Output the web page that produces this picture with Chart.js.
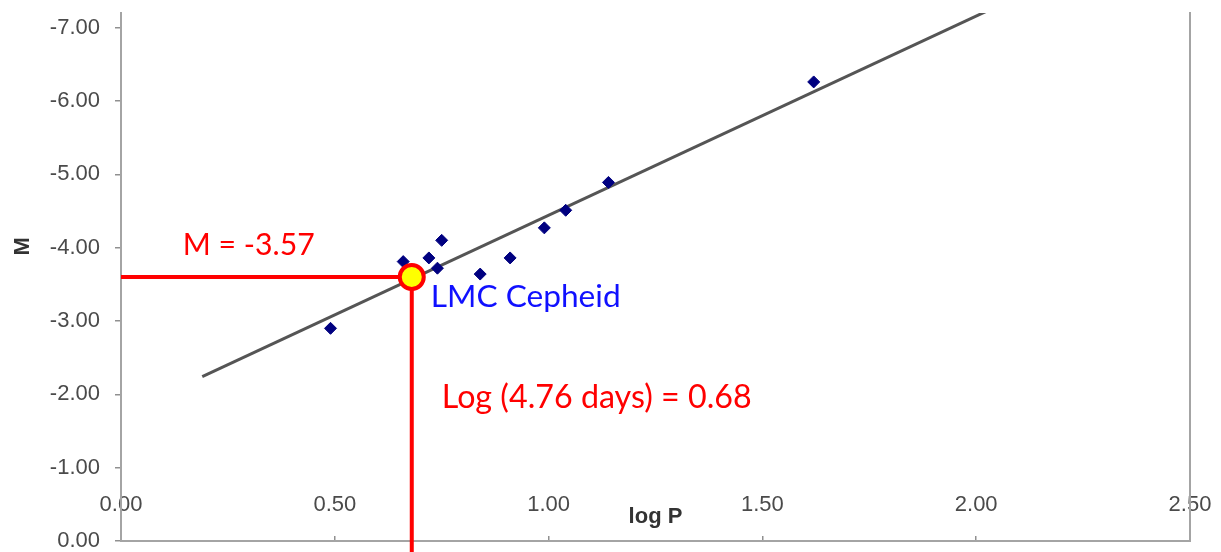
<!DOCTYPE html>
<html lang="en">
<head>
  <meta charset="UTF-8" />
  <title>Cepheid period-luminosity</title>
  <script src="https://cdn.jsdelivr.net/npm/chart.js"></script>
  <style>
    html, body { margin: 0; padding: 0; background: #fff; }
    #plChart { display: block; }
  </style>
</head>
<body>
  <canvas id="plChart" width="1221" height="552"></canvas>

  <script>
    // calibrating Cepheids: log of period (days) and absolute magnitude
    const logP = [0.49, 0.66, 0.72, 0.74, 0.75, 0.84, 0.91, 0.99, 1.04, 1.14, 1.62];
    const absMag = [-2.90, -3.81, -3.86, -3.72, -4.10, -3.64, -3.86, -4.27, -4.51, -4.89, -6.26];

    // fitted line, two end points
    const fitLogP = [0.19, 2.10];
    const fitMag = [-2.24, -7.43];

    const lmcLogP = 0.68;
    const lmcMag = -3.60;
    const guideLogP = [0, 0.68, 0.68];
    const guideMag = [-3.60, -3.60, 0.2];

    const xTicks = [0, 0.5, 1, 1.5, 2, 2.5];
    const yTicks = [-7, -6, -5, -4, -3, -2, -1, 0];

    const labelFont = 'Lato, "Open Sans", sans-serif';
    const dotted = { display: true, color: '#a4a4a4', width: 2, dash: [2, 2] };

    const toPoints = (xs, ys) => xs.map((v, i) => ({ x: v, y: ys[i] }));
    const fixed = v => v.toFixed(2);

    // scale font so the text takes the given width
    function fitFont(ctx, text, width, guess) {
      ctx.font = guess + 'px ' + labelFont;
      return guess * width / ctx.measureText(text).width;
    }

    const notes = {
      id: 'notes',
      afterDatasetsDraw(chart) {
        const ctx = chart.ctx;
        const px = chart.scales.x.getPixelForValue(lmcLogP);
        const py = chart.scales.y.getPixelForValue(lmcMag);
        const items = [
          { text: 'M = -3.57', color: '#ff0000', dx: -229, dy: -22, w: 132 },
          { text: 'LMC Cepheid', color: '#1010ff', dx: 19, dy: 30, w: 190 },
          { text: 'Log (4.76 days) = 0.68', color: '#ff0000', dx: 30, dy: 131, w: 310 }
        ];
        ctx.save();
        ctx.textAlign = 'left';
        ctx.textBaseline = 'alphabetic';
        items.forEach(it => {
          const size = fitFont(ctx, it.text, it.w, 30);
          ctx.font = size + 'px ' + labelFont;
          ctx.fillStyle = it.color;
          ctx.fillText(it.text, px + it.dx, py + it.dy);
        });
        ctx.restore();
      }
    };

    const chart = new Chart(document.getElementById('plChart'), {
      type: 'scatter',
      data: {
        datasets: [
          {
            label: 'LMC Cepheid',
            data: [{ x: lmcLogP, y: lmcMag }],
            pointRadius: 12,
            pointBorderWidth: 4,
            backgroundColor: '#ffff00',
            borderColor: '#ff0000',
            clip: false
          },
          {
            label: 'Cepheids',
            data: toPoints(logP, absMag),
            pointStyle: 'rectRot',
            pointRadius: 6,
            pointBorderWidth: 1,
            backgroundColor: '#000080',
            borderColor: '#000080'
          },
          {
            label: 'guide',
            data: toPoints(guideLogP, guideMag),
            showLine: true,
            borderColor: '#ff0000',
            borderWidth: 4,
            pointRadius: 0,
            clip: false
          },
          {
            label: 'fit',
            data: toPoints(fitLogP, fitMag),
            showLine: true,
            borderColor: '#555555',
            borderWidth: 3,
            pointRadius: 0
          }
        ]
      },
      options: {
        responsive: false,
        animation: false,
        events: [],
        layout: { autoPadding: false, padding: { top: 13, left: 0, right: 0, bottom: 0 } },
        plugins: {
          legend: { display: false },
          tooltip: { enabled: false }
        },
        scales: {
          x: {
            type: 'linear',
            position: { y: -0.64 },
            min: 0,
            max: 2.5,
            afterBuildTicks: s => { s.ticks = xTicks.map(v => ({ value: v })); },
            afterFit: s => { s.paddingLeft = 0; s.paddingRight = 0; },
            grid: { display: false, drawTicks: false },
            border: { display: false },
            ticks: {
              padding: 0,
              color: '#4a4a4a',
              font: { family: '"Liberation Sans", Arial', size: 22, lineHeight: 1 },
              callback: fixed
            },
            title: {
              display: true,
              text: 'log P',
              color: '#333',
              padding: { top: -10, bottom: 0 },
              font: { family: '"Liberation Sans", Arial', size: 22, weight: 'bold', lineHeight: 1 }
            }
          },
          xb: {
            type: 'linear',
            position: 'bottom',
            min: 0,
            max: 2.5,
            afterBuildTicks: s => { s.ticks = xTicks.map(v => ({ value: v })); },
            afterFit: s => { s.height = 11; s.paddingLeft = 0; s.paddingRight = 0; },
            grid: { drawOnChartArea: false, drawTicks: true, tickLength: -5, color: '#909090', lineWidth: 1.5 },
            border: dotted,
            ticks: { display: false }
          },
          y: {
            type: 'linear',
            position: 'left',
            reverse: true,
            min: -7.2,
            max: 0,
            afterBuildTicks: s => { s.ticks = yTicks.map(v => ({ value: v })); },
            afterFit: s => { s.width = 121; s.paddingTop = 0; s.paddingBottom = 0; },
            grid: { drawOnChartArea: false, tickLength: 6, color: '#909090', lineWidth: 1.5 },
            border: dotted,
            ticks: {
              padding: 15,
              color: '#4a4a4a',
              font: { family: '"Liberation Sans", Arial', size: 22, lineHeight: 1 },
              callback: fixed
            },
            title: {
              display: true,
              text: '          M',
              color: '#333',
              padding: { top: 10, bottom: 0 },
              font: { family: '"Liberation Sans", Arial', size: 22, weight: 'bold' }
            }
          },
          yr: {
            type: 'linear',
            position: 'right',
            afterFit: s => { s.width = 31; s.paddingTop = 0; s.paddingBottom = 0; },
            grid: { display: false },
            border: dotted,
            ticks: { display: false }
          }
        }
      },
      plugins: [notes]
    });
  </script>
</body>
</html>
